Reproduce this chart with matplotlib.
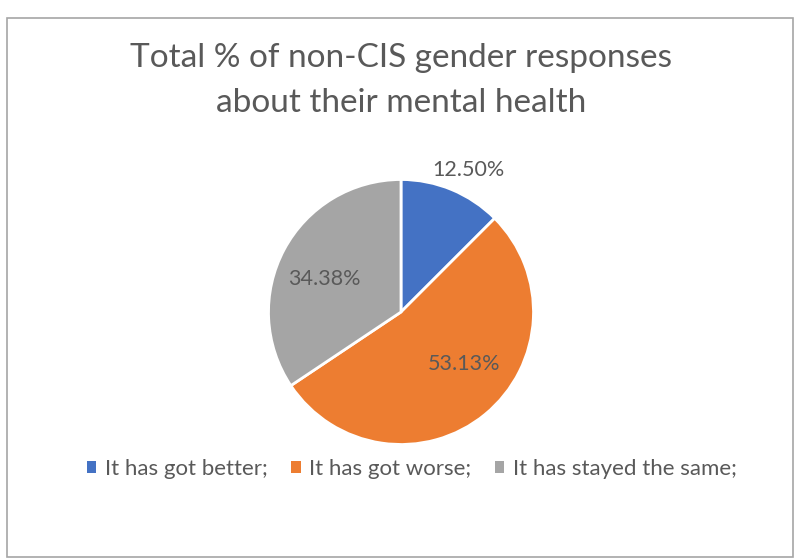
import numpy as np
import matplotlib
matplotlib.use("Agg")
import matplotlib.pyplot as plt
from matplotlib.patches import Rectangle, Patch

categories = ["It has got better;", "It has got worse;", "It has stayed the same;"]
shares = [12.50, 53.13, 34.38]
colors = ["#4472C4", "#ED7D31", "#A5A5A5"]
# label placement per wedge: distance from centre (in radii) and angle tweak (deg)
label_dist = [1.19, 0.62, 0.63]
label_turn = [-3.0, 11.0, 5.0]

TEXT = "#595959"
plt.rcParams["font.family"] = ["Lato", "DejaVu Sans"]

W, H = 797, 559
fig = plt.figure(figsize=(W / 100, H / 100), dpi=100)

# outer chart border
fig.patches.append(Rectangle((7 / W, 2 / H), 786 / W, 539 / H, transform=fig.transFigure,
                             fill=False, edgecolor="#A6A6A6", lw=1.2))

fig.text(401 / W, 1 - 58 / H, "Total % of non-CIS gender responses", ha="center",
         va="center", fontsize=24, color=TEXT)
fig.text(401 / W, 1 - 103 / H, "about their mental health", ha="center",
         va="center", fontsize=24, color=TEXT)

# pie centre (401, 312) px, radius 132.5 px
R = 132.5
a = 1.5
side = 2 * a * R
ax = fig.add_axes([(401 - side / 2) / W, (H - 312 - side / 2) / H, side / W, side / H])
wedges, _ = ax.pie(shares, colors=colors, startangle=90, counterclock=False,
                   wedgeprops=dict(edgecolor="white", linewidth=2))
ax.set_xlim(-a, a); ax.set_ylim(-a, a)
ax.set_aspect("equal")
ax.axis("off")

for w, v, d, t in zip(wedges, shares, label_dist, label_turn):
    mid = np.deg2rad((w.theta1 + w.theta2) / 2 + t)
    ax.text(d * np.cos(mid), d * np.sin(mid), f"{v:.2f}%", ha="center", va="center",
            fontsize=15.5, color=TEXT)

handles = [Patch(facecolor=c, edgecolor="none") for c in colors]
fig.legend(handles, categories, loc="center", bbox_to_anchor=(412 / W, 1 - 469 / H),
           ncol=3, frameon=False, fontsize=16, labelcolor=TEXT, handlelength=0.42,
           handleheight=0.42, handletextpad=0.4, columnspacing=1.05)

fig.savefig("out.png", dpi=100)
